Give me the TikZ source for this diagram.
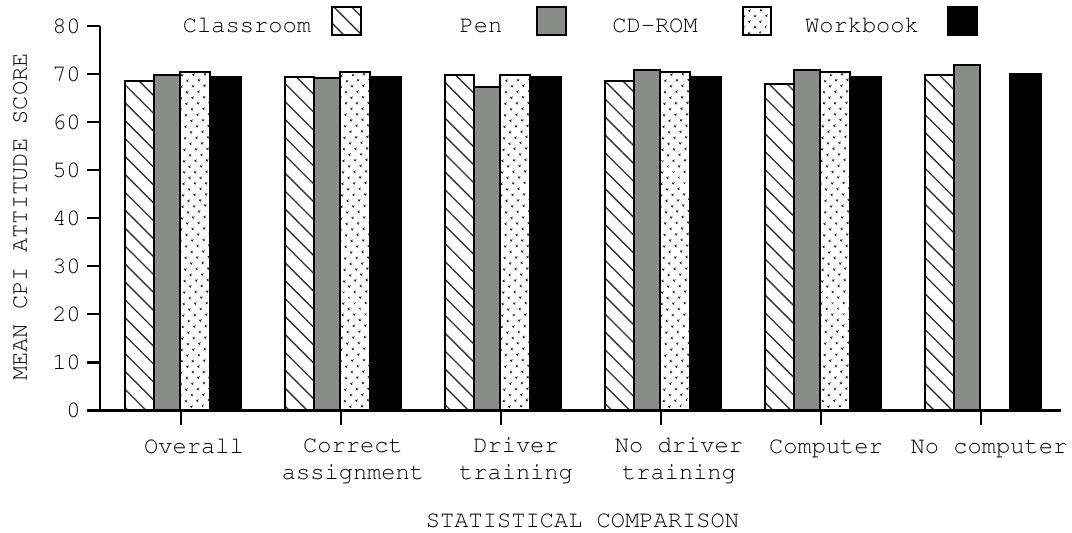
\documentclass[tikz,border=0pt]{standalone}
\usepackage[T1]{fontenc}
\usepackage{courier}
\usepackage{tikz}
\usetikzlibrary{patterns.meta}

\definecolor{pengray}{RGB}{138,140,138}

\begin{document}
\begin{tikzpicture}[x = 0.75pt, y = 3.6075pt,
        barbox/.style = {draw = black, line width = 1.5pt},
        classroom/.style = {barbox, pattern = {Lines[angle = -45, distance = 9.5pt, line width = 1pt]}, pattern color = black!80},
        pen/.style = {barbox, fill = pengray},
        cdrom/.style = {barbox, pattern = {Dots[angle = 45, distance = 6.5pt, radius = 1.15pt]}, pattern color = black!85},
        workbook/.style = {barbox, fill = black},
        axis/.style = {line width = 1.7pt},
        lbl/.style = {font = \ttfamily\fontsize{17.8}{20.5}\selectfont, inner sep = 0pt}]
        \useasboundingbox (0,-25.47) rectangle (1072,85.34);
        
        % bars, one group per comparison
        \draw [classroom] (125,0) rectangle (154,68.6);
        \draw [pen] (154,0) rectangle (180,69.8);
        \draw [cdrom] (180,0) rectangle (210,70.4);
        \draw [workbook] (210,0) rectangle (241,69.3);
        
        \draw [classroom] (285,0) rectangle (314,69.3);
        \draw [pen] (314,0) rectangle (340,69.1);
        \draw [cdrom] (340,0) rectangle (370,70.4);
        \draw [workbook] (370,0) rectangle (401,69.3);
        
        \draw [classroom] (445,0) rectangle (474,69.8);
        \draw [pen] (474,0) rectangle (500,67.3);
        \draw [cdrom] (500,0) rectangle (530,69.8);
        \draw [workbook] (530,0) rectangle (561,69.3);
        
        \draw [classroom] (605,0) rectangle (634,68.6);
        \draw [pen] (634,0) rectangle (660,70.8);
        \draw [cdrom] (660,0) rectangle (690,70.4);
        \draw [workbook] (690,0) rectangle (721,69.3);
        
        \draw [classroom] (765,0) rectangle (794,67.9);
        \draw [pen] (794,0) rectangle (820,70.8);
        \draw [cdrom] (820,0) rectangle (850,70.4);
        \draw [workbook] (850,0) rectangle (881,69.3);
        
        \draw [classroom] (925,0) rectangle (954,69.8);
        \draw [pen] (954,0) rectangle (980,71.9);
        \draw [workbook] (1010,0) rectangle (1041,69.9);
        
        % axes
        \draw [axis] (100,80) -- (100,0) -- (1061,0);
        
        \draw [axis] (87,0) -- (100,0);
        \draw [axis] (87,10) -- (100,10);
        \draw [axis] (87,20) -- (100,20);
        \draw [axis] (87,30) -- (100,30);
        \draw [axis] (87,40) -- (100,40);
        \draw [axis] (87,50) -- (100,50);
        \draw [axis] (87,60) -- (100,60);
        \draw [axis] (87,70) -- (100,70);
        \draw [axis] (87,80) -- (100,80);
        
        \node [lbl, anchor = east] (y0) at (81,0) {0};
        \node [lbl, anchor = east] (y10) at (81,10) {10};
        \node [lbl, anchor = east] (y20) at (81,20) {20};
        \node [lbl, anchor = east] (y30) at (81,30) {30};
        \node [lbl, anchor = east] (y40) at (81,40) {40};
        \node [lbl, anchor = east] (y50) at (81,50) {50};
        \node [lbl, anchor = east] (y60) at (81,60) {60};
        \node [lbl, anchor = east] (y70) at (81,70) {70};
        \node [lbl, anchor = east] (y80) at (81,80) {80};
        
        \draw [axis] (181,0) -- (181,-3.12);
        \draw [axis] (341,0) -- (341,-3.12);
        \draw [axis] (501,0) -- (501,-3.12);
        \draw [axis] (661,0) -- (661,-3.12);
        \draw [axis] (821,0) -- (821,-3.12);
        \draw [axis] (981,0) -- (981,-3.12);
        
        % one-line labels sit on the first baseline, two-line ones on the second
        \node [lbl, anchor = base] (xoverall) at (194,-8.84) {Overall};
        \node [lbl, anchor = base, align = center] (xcorrect) at (353,-14.45) {Correct\\assignment};
        \node [lbl, anchor = base, align = center] (xdriver) at (516,-14.45) {Driver\\training};
        \node [lbl, anchor = base, align = center] (xnodriver) at (679,-14.45) {No driver\\training};
        \node [lbl, anchor = base] (xcomputer) at (826,-8.84) {Computer};
        \node [lbl, anchor = base] (xnocomputer) at (989,-8.84) {No computer};
        
        \node [lbl, anchor = base] (xtitle) at (582.5,-24.43) {STATISTICAL COMPARISON};
        \node [lbl, rotate = 90] (ytitle) at (20,40.23) {MEAN CPI ATTITUDE SCORE};
        
        % legend
        \node [lbl, anchor = base] (lclassroom) at (247,78.48) {Classroom};
        \draw [classroom] (332,78.07) rectangle (361,83.89);
        \node [lbl, anchor = base] (lpen) at (481,78.48) {Pen};
        \draw [pen] (537,78.07) rectangle (566,83.89);
        \node [lbl, anchor = base] (lcdrom) at (655,78.48) {CD-ROM};
        \draw [cdrom] (743,78.07) rectangle (771,83.89);
        \node [lbl, anchor = base] (lworkbook) at (862,78.48) {Workbook};
        \draw [workbook] (948,78.07) rectangle (977,83.89);
\end{tikzpicture}
\end{document}
